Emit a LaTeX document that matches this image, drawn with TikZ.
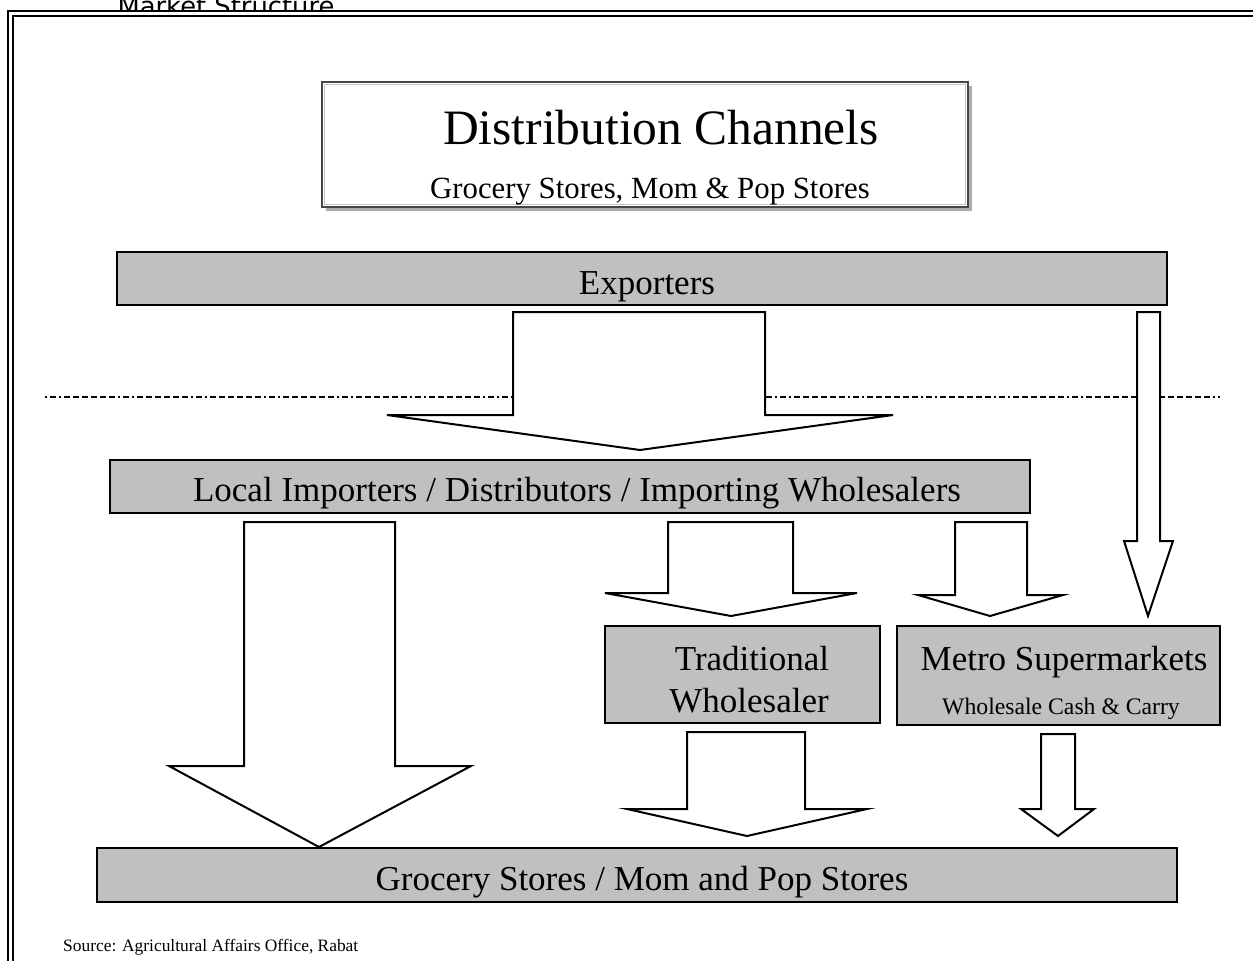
\documentclass[tikz,border=0pt]{standalone}
\usepackage{fontspec}
\setmainfont{Liberation Serif}
\newfontfamily\dejavu{DejaVu Sans}
\definecolor{boxgray}{HTML}{C0C0C0}
\begin{document}
\begin{tikzpicture}[x=1pt,y=-1pt,
  box/.style={draw=black, fill=boxgray, line width=2.5pt, inner sep=0pt, rectangle},
  barrow/.style={draw=black, fill=white, line width=2pt, line join=miter},
  lbl/.style={anchor=base, inner sep=0pt, font=\fontsize{35}{40}\selectfont},
  sublbl/.style={anchor=base, inner sep=0pt, font=\fontsize{23.7}{28}\selectfont},
  sepline/.style={line width=1.6pt, dash pattern=on 2pt off 3pt on 6pt off 3pt on 2pt off 3pt on 6pt off 3pt on 6pt off 3pt on 6pt off 3pt on 6pt off 3pt on 6pt off 3pt on 6pt off 3pt}
  ]
\useasboundingbox (0,0) rectangle (1253,961);
\clip (0,0) rectangle (1253,961);
\fill[white] (0,0) rectangle (1253,961);

% header text partly hidden by frame
\node[anchor=base, inner sep=0pt, font=\dejavu\fontsize{25.8}{30}\selectfont] (hdr) at (226,15) {Market Structure};

% frame (double line)
\fill[white] (8,11) rectangle (1275,985);
\draw[line width=2.2pt] (8,11) rectangle (1275,985);
\draw[line width=1.3pt] (13,16) rectangle (1270,980);

% title box with shadow
\fill[gray!65] (326,86) rectangle (972,211);
\node[draw=gray!55!black, fill=white, line width=2pt, inner sep=0pt, minimum width=646pt, minimum height=125pt] (title) at (645,144.5) {};
\draw[gray!45, line width=1pt] (324.5,84.5) rectangle (965.5,204.5);
\node[anchor=base, inner sep=0pt, font=\fontsize{49.5}{55}\selectfont] (ttl) at (661,144) {Distribution Channels};
\node[anchor=base, inner sep=0pt, font=\fontsize{30.8}{35}\selectfont] (sub) at (650,198) {Grocery Stores, Mom \& Pop Stores};

% separator line
\coordinate (sl) at (45,397);
\coordinate (sr) at (1220,397);
\draw[sepline] (sl) -- (sr);

% block arrows
\draw[barrow] (513,312) -- (765,312) -- (765,415) -- (893,415) -- (640,450) -- (387,415) -- (513,415) -- cycle;
\draw[barrow] (1137,312) -- (1160,312) -- (1160,541) -- (1173,541) -- (1148,616) -- (1124,541) -- (1137,541) -- cycle;
\draw[barrow] (668,522) -- (793,522) -- (793,593) -- (857,593) -- (731,616) -- (605,593) -- (668,593) -- cycle;
\draw[barrow] (955,522) -- (1027,522) -- (1027,595) -- (1063,595) -- (990,616) -- (918,595) -- (955,595) -- cycle;
\draw[barrow] (244,522) -- (395,522) -- (395,766) -- (471,766) -- (319,847) -- (169,766) -- (244,766) -- cycle;
\draw[barrow] (687,732) -- (805,732) -- (805,809) -- (867,809) -- (747,836) -- (627,809) -- (687,809) -- cycle;
\draw[barrow] (1041,734) -- (1075,734) -- (1075,809) -- (1094,809) -- (1058,836) -- (1021,809) -- (1041,809) -- cycle;

% boxes
\node[box, minimum width=1050pt, minimum height=53pt] (exp) at (642,278.5) {};
\node[lbl] (expt) at (647,294) {Exporters};

\node[box, minimum width=920pt, minimum height=53pt] (loc) at (570,486.5) {};
\node[lbl] (loct) at (577,501) {Local Importers / Distributors / Importing Wholesalers};

\node[box, minimum width=275pt, minimum height=97pt] (trad) at (742.5,674.5) {};
\node[lbl] (tradt1) at (752,670) {Traditional};
\node[lbl] (tradt2) at (749,712) {Wholesaler};

\node[box, minimum width=323pt, minimum height=99pt] (metro) at (1058.5,675.5) {};
\node[lbl] (metrot1) at (1064,670) {Metro Supermarkets};
\node[sublbl] (metrot2) at (1061,714) {Wholesale Cash \& Carry};

\node[box, minimum width=1080pt, minimum height=54pt] (groc) at (637,875) {};
\node[lbl] (groct) at (642,890) {Grocery Stores / Mom and Pop Stores};

\node[anchor=base west, inner sep=0pt, font=\fontsize{17.4}{20}\selectfont] (src) at (63,951) {Source: Agricultural Affairs Office, Rabat};
\end{tikzpicture}
\end{document}
